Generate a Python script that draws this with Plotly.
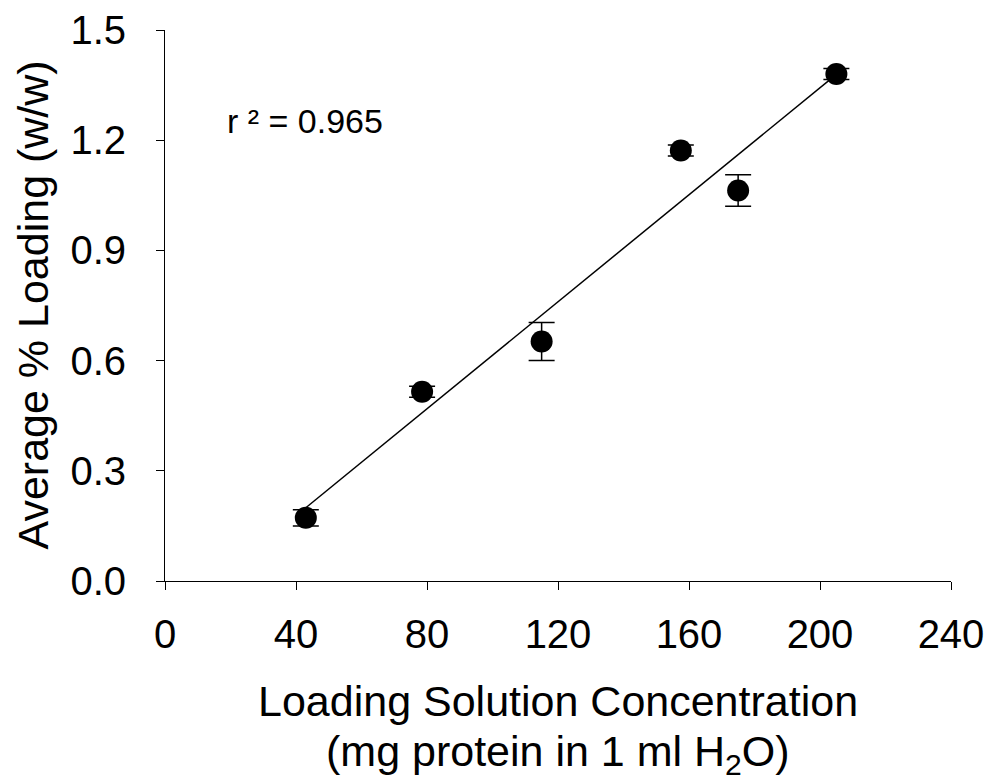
import numpy as np
import plotly.graph_objects as go

conc = [43.0, 78.5, 115.0, 157.5, 175.0, 205.0]
loading = [0.172, 0.515, 0.652, 1.172, 1.063, 1.380]
err = [0.022, 0.015, 0.052, 0.015, 0.043, 0.015]
x_ticks = [0, 40, 80, 120, 160, 200, 240]
y_ticks = [0.0, 0.3, 0.6, 0.9, 1.2, 1.5]
y_tick_text = ["0.0", "0.3", "0.6", "0.9", "1.2", "1.5"]
r2_label = "r ² = 0.965"
x_title_1 = "Loading Solution Concentration"
x_title_2 = "(mg protein in 1 ml H<sub>2</sub>O)"
y_title = "Average % Loading (w/w)"

FONT = "Liberation Sans, Arial"

slope, intercept = np.polyfit(conc, loading, 1)
fit_x = [min(conc), max(conc)]
fit_y = [slope * v + intercept for v in fit_x]

fig = go.Figure()
fig.add_trace(go.Scatter(x=fit_x, y=fit_y, mode="lines",
                         line=dict(color="black", width=1.5), showlegend=False))
fig.add_trace(go.Scatter(
    x=conc, y=loading, mode="markers",
    marker=dict(color="black", size=22, symbol="circle"),
    error_y=dict(type="data", array=err, color="black", thickness=1.5, width=13),
    showlegend=False))

fig.add_annotation(x=18.3, y=1.251, xref="x", yref="y", text=r2_label, showarrow=False,
                   xanchor="left", yanchor="middle",
                   font=dict(family=FONT, size=34, color="black"))

fig.add_annotation(x=0.5, y=0, xref="paper", yref="paper", yshift=-120,
                   text=x_title_1, showarrow=False,
                   xanchor="center", yanchor="middle",
                   font=dict(family=FONT, size=43, color="black"))
fig.add_annotation(x=0.5, y=0, xref="paper", yref="paper", yshift=-173,
                   text=x_title_2, showarrow=False,
                   xanchor="center", yanchor="middle",
                   font=dict(family=FONT, size=43, color="black"))
fig.add_annotation(x=0, y=0.5, xref="paper", yref="paper", xshift=-133,
                   text=y_title, showarrow=False, textangle=-90,
                   xanchor="center", yanchor="middle",
                   font=dict(family=FONT, size=43, color="black"))

fig.update_xaxes(range=[0, 240], tickvals=x_ticks, ticks="outside", ticklen=8,
                 tickwidth=1, tickcolor="black", showline=True, linecolor="black",
                 linewidth=1, showgrid=False, zeroline=False, ticklabelstandoff=10,
                 automargin=False,
                 tickfont=dict(family=FONT, size=40, color="black"))
fig.update_yaxes(range=[0, 1.5], tickvals=y_ticks, ticktext=y_tick_text, ticks="outside",
                 ticklen=8, tickwidth=1, tickcolor="black", showline=True,
                 linecolor="black", linewidth=1, showgrid=False, zeroline=False,
                 ticklabelstandoff=22, automargin=False,
                 tickfont=dict(family=FONT, size=40, color="black"))

fig.update_layout(width=991, height=780, plot_bgcolor="white", paper_bgcolor="white",
                  margin=dict(l=165, r=40, t=30, b=199))

fig.write_html("out.html")
